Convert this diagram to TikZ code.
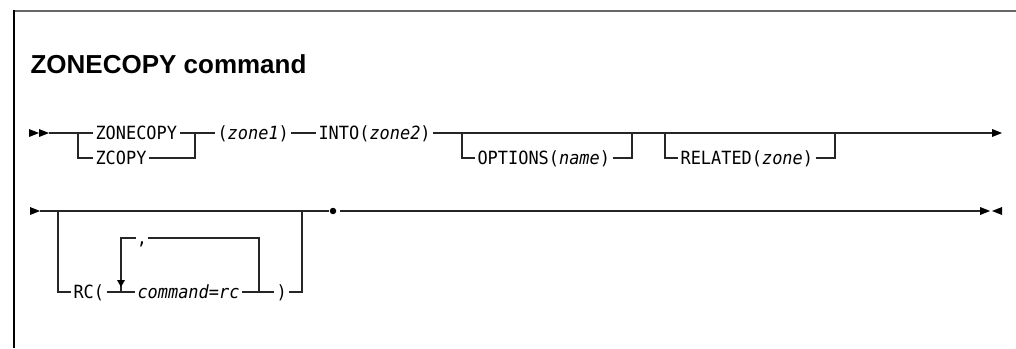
\documentclass[tikz,border=0pt]{standalone}
\usepackage{fontspec}
\setmainfont{Liberation Sans}
\setmonofont[FakeStretch=0.93]{DejaVu Sans Mono}
\begin{document}
\begin{tikzpicture}[x=1pt,y=-1pt,line width=1.1pt,
  kw/.style={font=\fontsize{18.2}{18}\selectfont\ttfamily,inner xsep=2pt,inner ysep=0pt,anchor=base west},
  tip/.style={fill=black,draw=none},
  rail/.style={draw=black!85}]
\useasboundingbox (0,0) rectangle (1016,348);
% frame
\draw[line width=2pt,black!60] (14,11) -- (1016,11);
\draw[line width=1.4pt] (14,10) -- (14,348);
% title
\node[font=\fontsize{26}{26}\selectfont\bfseries,inner sep=0pt,anchor=base west] (title) at (30,73) {ZONECOPY command};

% ---------- row 1 ----------
\fill[tip] (29,129) -- (39,133) -- (29,137) -- cycle;
\fill[tip] (39,129) -- (49,133) -- (39,137) -- cycle;
\coordinate (r1s) at (49,133);
\coordinate (j1) at (78,133);
\coordinate (j1b) at (78,158);
\node[kw] (zonecopy) at (93,139.5) {ZONECOPY};
\node[kw] (zcopy) at (93,164.5) {ZCOPY};
\coordinate (j2) at (195,133);
\coordinate (j2b) at (195,158);
\node[kw] (zone1) at (215,139.5) {(\textit{zone1})};
\node[kw] (into) at (316,139.5) {INTO(\textit{zone2})};
\coordinate (o1) at (462,133);
\coordinate (o1b) at (462,158);
\node[kw] (opt) at (475,164.5) {OPTIONS(\textit{name})};
\coordinate (o2) at (632,133);
\coordinate (o2b) at (632,158);
\coordinate (q1) at (665,133);
\coordinate (q1b) at (665,158);
\node[kw] (rel) at (678,164.5) {RELATED(\textit{zone})};
\coordinate (q2) at (835,133);
\coordinate (q2b) at (835,158);
\coordinate (r1e) at (992,133);
\fill[tip] (992,129) -- (1002,133) -- (992,137) -- cycle;

\draw[rail] (r1s) -- (j1) -- (zonecopy.west |- j1);
\draw[rail] (zonecopy.east |- j1) -- (j2) -- (zone1.west |- j2);
\draw[rail] (j1) -- (j1b) -- (zcopy.west |- j1b);
\draw[rail] (zcopy.east |- j1b) -- (j2b) -- (j2);
\draw[rail] (zone1.east |- j1) -- (into.west |- j1);
\draw[rail] (into.east |- j1) -- (r1e);
\draw[rail] (o1) -- (o1b) -- (opt.west |- o1b);
\draw[rail] (opt.east |- o1b) -- (o2b) -- (o2);
\draw[rail] (q1) -- (q1b) -- (rel.west |- q1b);
\draw[rail] (rel.east |- q1b) -- (q2b) -- (q2);

% ---------- row 2 ----------
\fill[tip] (30,207) -- (40,211) -- (30,215) -- cycle;
\coordinate (r2s) at (40,211);
\coordinate (k1) at (58,211);
\coordinate (k1b) at (58,292);
\node[kw] (rc) at (71,298.5) {RC(};
\node[kw] (cmd) at (135,298.5) {\textit{command=rc}};
\coordinate (l1) at (121,292);
\coordinate (l1t) at (121,238);
\coordinate (l2) at (259,292);
\coordinate (l2t) at (259,238);
\node[kw,inner xsep=0pt,anchor=base] (comma) at (142,244) {,};
\node[kw] (rpar) at (274,298.5) {)};
\coordinate (k2) at (302,211);
\coordinate (k2b) at (302,292);
\node[circle,fill=black,inner sep=0pt,minimum size=6.5pt] (dot) at (333,211) {};
\coordinate (aft) at (340,211);
\coordinate (aft2) at (360,211);
\coordinate (r2e) at (980,211);
\fill[tip] (980,207) -- (990,211) -- (980,215) -- cycle;
\fill[tip] (1002,207) -- (992,211) -- (1002,215) -- cycle;

\draw[rail] (r2s) -- (k1) -- (k2) -- (dot);
\draw[rail,line width=1.8pt] (aft) -- (aft2);
\draw[rail] (aft2) -- (r2e);
\draw[rail] (k1) -- (k1b) -- (rc.west |- k1b);
\draw[rail] (rc.east |- k1b) -- (cmd.west |- k1b);
\draw[rail] (cmd.east |- k1b) -- (rpar.west |- k1b);
\draw[rail] (rpar.east |- k1b) -- (k2b) -- (k2);
\draw[rail] (l1) -- (l1t) -- (comma.west |- l1t);
\draw[rail] (comma.east |- l1t) -- (l2t) -- (l2);
\fill[tip] (117,280) -- (125,280) -- (121,287) -- cycle;
\end{tikzpicture}
\end{document}
